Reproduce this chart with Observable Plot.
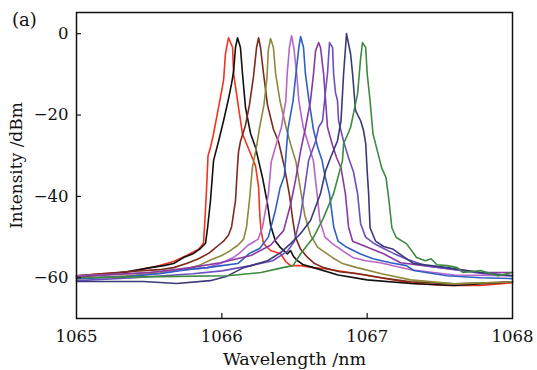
<!DOCTYPE html>
<html>
<head>
<meta charset="utf-8">
<script src="https://cdn.jsdelivr.net/npm/d3@7"></script>
<script src="https://cdn.jsdelivr.net/npm/@observablehq/plot@0.6"></script>
<style>
  html, body { margin: 0; padding: 0; background: #fff; }
  #wrap { position: relative; width: 537px; height: 370px; }
  #tag { position: absolute; left: 12px; top: 9px; font: 18px "DejaVu Serif", serif; color: #111; }
</style>
</head>
<body>
<div id="wrap"><div id="tag">(a)</div></div>
<script>
const wavelengthTicks = [1065, 1066, 1067, 1068];
const intensityTicks = [0, -20, -40, -60];
const seriesNames = ["S1", "S2", "S3", "S4", "S5", "S6", "S7", "S8", "S9", "S10"];
const seriesColors = ["#f2341f", "#111111", "#7b2a1c", "#8c8a3c", "#b866c6", "#2f5fc4", "#8a38a2", "#6b4fbf", "#3b3a78", "#3d8b3f"];

const red = [[1065.00,-59.5],[1065.165,-59.0],[1065.344,-58.7],[1065.509,-57.5],[1065.571,-57.0],[1065.668,-56.0],[1065.757,-54.5],[1065.84,-53.0],[1065.874,-51.5],[1065.885,-45],[1065.895,-38],[1065.905,-30],[1065.922,-28],[1065.943,-24.6],[1065.977,-18.2],[1066.012,-11.5],[1066.025,-4.9],[1066.046,-1.0],[1066.074,-3.4],[1066.081,-9.8],[1066.115,-18.2],[1066.142,-24.6],[1066.198,-29.5],[1066.232,-32.5],[1066.253,-37.8],[1066.262,-45],[1066.27,-48.4],[1066.287,-51.6],[1066.335,-53.3],[1066.404,-54.1],[1066.44,-56.0],[1066.473,-57.0],[1066.542,-57.0],[1066.631,-57.5],[1066.70,-57.7],[1066.9,-58.8],[1067.092,-60.0],[1067.319,-61.4],[1067.553,-61.9],[1067.78,-61.9],[1068,-61.2]];

const black = [[1065.00,-59.8],[1065.165,-59.3],[1065.344,-58.5],[1065.509,-57.5],[1065.6,-57.0],[1065.668,-56.5],[1065.737,-55.0],[1065.806,-54.0],[1065.853,-52.8],[1065.888,-51.5],[1065.902,-47.7],[1065.922,-41],[1065.943,-31.2],[1065.977,-26.5],[1066.012,-21.4],[1066.046,-16.0],[1066.067,-12.3],[1066.081,-9.3],[1066.094,-3.4],[1066.108,-1.0],[1066.128,-3.4],[1066.142,-9.8],[1066.163,-18.2],[1066.198,-24.6],[1066.232,-28.0],[1066.28,-35.4],[1066.314,-41.8],[1066.335,-47],[1066.369,-51.0],[1066.404,-52.6],[1066.432,-53.5],[1066.452,-54.1],[1066.473,-53.3],[1066.494,-54.8],[1066.521,-55.8],[1066.562,-56.8],[1066.631,-57.5],[1066.8,-59.3],[1067.0,-60.5],[1067.3,-61.4],[1067.6,-61.9],[1068,-61.0]];

const brown = [[1065.00,-59.5],[1065.344,-58.5],[1065.571,-58.0],[1065.668,-57.5],[1065.757,-56.5],[1065.84,-55.3],[1065.909,-54.0],[1065.943,-53.0],[1065.977,-52.0],[1066.012,-51.0],[1066.046,-49.5],[1066.067,-47.5],[1066.094,-41],[1066.108,-32.5],[1066.115,-29],[1066.128,-26.5],[1066.163,-22.5],[1066.19,-17.5],[1066.218,-10.5],[1066.239,-3.4],[1066.253,-1.0],[1066.266,-3.4],[1066.287,-9.8],[1066.314,-17.5],[1066.355,-23.5],[1066.39,-26.5],[1066.432,-33.0],[1066.466,-39.8],[1066.487,-45.5],[1066.507,-50.0],[1066.542,-53.0],[1066.59,-55.0],[1066.638,-56.5],[1066.7,-57.5],[1066.81,-58.5],[1066.94,-59.0],[1067.1,-60.0],[1067.3,-61.0],[1067.6,-61.5],[1068,-61.0]];

const olive = [[1065.00,-60.2],[1065.344,-59.5],[1065.571,-58.8],[1065.757,-57.8],[1065.84,-57.0],[1065.93,-55.5],[1066.0,-54.5],[1066.05,-53.5],[1066.11,-52.0],[1066.15,-50.5],[1066.17,-47.5],[1066.19,-41],[1066.21,-33],[1066.24,-27.5],[1066.26,-23],[1066.29,-17.5],[1066.31,-11.0],[1066.32,-4.0],[1066.335,-1.2],[1066.355,-3.4],[1066.37,-9.8],[1066.40,-16.5],[1066.445,-23.5],[1066.48,-28],[1066.51,-31.5],[1066.54,-38],[1066.57,-44.5],[1066.61,-49.5],[1066.66,-52.5],[1066.72,-54.0],[1066.76,-55.0],[1066.83,-56.5],[1066.93,-57.5],[1067.1,-59.0],[1067.3,-60.5],[1067.6,-61.5],[1068,-61.0]];

const violet = [[1065.00,-59.5],[1065.344,-59.0],[1065.571,-58.5],[1065.757,-58.0],[1065.9,-57.5],[1065.99,-56.5],[1066.08,-55.0],[1066.12,-54.0],[1066.18,-52.0],[1066.25,-50.5],[1066.28,-47.5],[1066.32,-39.5],[1066.34,-31.5],[1066.38,-26.5],[1066.41,-23.0],[1066.44,-16.5],[1066.45,-9.8],[1066.465,-3.4],[1066.48,-0.5],[1066.495,-3.4],[1066.515,-9.8],[1066.53,-16.5],[1066.56,-23.0],[1066.59,-26.5],[1066.63,-31.2],[1066.655,-39.3],[1066.675,-46.0],[1066.71,-50.0],[1066.76,-51.6],[1066.83,-53.3],[1066.9,-55.0],[1066.99,-55.8],[1067.09,-56.3],[1067.3,-58.0],[1067.6,-59.3],[1068,-59.5]];

const blue = [[1065.00,-60.2],[1065.344,-59.7],[1065.571,-59.0],[1065.757,-58.0],[1065.9,-57.5],[1066.0,-57.0],[1066.11,-56.5],[1066.19,-54.0],[1066.26,-52.8],[1066.32,-50.0],[1066.37,-43.2],[1066.40,-38],[1066.43,-35.0],[1066.455,-23.5],[1066.49,-16.5],[1066.51,-9.8],[1066.53,-3.4],[1066.542,-0.7],[1066.562,-3.4],[1066.575,-9.8],[1066.6,-16.5],[1066.63,-23.5],[1066.66,-28],[1066.69,-31.2],[1066.71,-35],[1066.74,-39.3],[1066.77,-47.5],[1066.8,-51.0],[1066.86,-52.5],[1066.95,-54.1],[1067.04,-55.3],[1067.16,-56.3],[1067.27,-57.0],[1067.32,-58.2],[1067.55,-59.5],[1067.78,-60.0],[1068,-60.2]];

const purple = [[1065.00,-59.7],[1065.51,-58.7],[1065.785,-57.5],[1065.99,-56.3],[1066.2,-54.5],[1066.335,-52.0],[1066.425,-48.4],[1066.473,-42],[1066.507,-36],[1066.542,-28.8],[1066.576,-23],[1066.61,-16.5],[1066.631,-9.8],[1066.645,-4.2],[1066.666,-2.2],[1066.679,-3.4],[1066.7,-9.8],[1066.714,-16.5],[1066.727,-23.0],[1066.762,-27.5],[1066.79,-30.5],[1066.82,-33],[1066.85,-39.3],[1066.872,-47.5],[1066.9,-51.0],[1066.955,-51.8],[1067.023,-52.8],[1067.113,-54.1],[1067.23,-56.3],[1067.39,-57.0],[1067.55,-57.7],[1067.78,-58.7],[1068,-58.7]];

const indigo = [[1065.00,-60.7],[1065.4,-60.0],[1065.8,-59.0],[1066.0,-58.3],[1066.2,-57.0],[1066.35,-55.8],[1066.45,-53.5],[1066.5,-51.0],[1066.54,-45],[1066.57,-38],[1066.597,-31.2],[1066.645,-26.5],[1066.666,-23.0],[1066.693,-21.4],[1066.714,-14.0],[1066.727,-9.8],[1066.741,-2.2],[1066.762,-3.4],[1066.769,-9.8],[1066.782,-14.5],[1066.796,-16.5],[1066.803,-21.4],[1066.838,-26.5],[1066.872,-30.5],[1066.906,-34.0],[1066.934,-39.3],[1066.955,-46.7],[1066.989,-50.0],[1067.044,-51.5],[1067.113,-52.8],[1067.182,-54.0],[1067.278,-55.5],[1067.4,-57.0],[1067.6,-58.0],[1067.8,-59.0],[1068,-59.5]];

const navy = [[1065.00,-60.9],[1065.46,-60.9],[1065.69,-61.4],[1065.92,-60.7],[1066.03,-59.7],[1066.15,-57.5],[1066.315,-55.8],[1066.404,-53.8],[1066.473,-51.6],[1066.542,-49.1],[1066.61,-45.9],[1066.679,-39.3],[1066.714,-33.7],[1066.748,-30.5],[1066.796,-26.3],[1066.82,-21.4],[1066.838,-9.8],[1066.858,0],[1066.886,-5],[1066.9,-10],[1066.92,-18.9],[1066.955,-21.4],[1066.975,-23.8],[1066.99,-27],[1067.0,-33.7],[1067.01,-39.3],[1067.02,-47.7],[1067.058,-51.0],[1067.113,-52.3],[1067.18,-53.0],[1067.25,-54.8],[1067.32,-56.5],[1067.44,-57.0],[1067.55,-57.5],[1067.78,-58.7],[1068,-59.5]];

const green = [[1065.00,-60.0],[1065.58,-59.7],[1066.04,-59.5],[1066.27,-58.7],[1066.42,-57.5],[1066.49,-57.0],[1066.542,-54.1],[1066.63,-50.1],[1066.7,-45.2],[1066.769,-39.3],[1066.83,-31.2],[1066.838,-27.0],[1066.872,-24.3],[1066.886,-23.0],[1066.906,-19.6],[1066.934,-14.8],[1066.955,-6.0],[1066.968,-2.2],[1066.99,-3.4],[1067.0,-9.8],[1067.02,-16.5],[1067.04,-24.6],[1067.07,-28.8],[1067.1,-33],[1067.13,-35.4],[1067.15,-41.0],[1067.17,-47.7],[1067.2,-50.1],[1067.27,-51.6],[1067.34,-55.0],[1067.4,-55.8],[1067.44,-55.3],[1067.48,-56.8],[1067.55,-57.0],[1067.62,-57.5],[1067.66,-58.7],[1067.78,-58.2],[1067.9,-59.5],[1068,-58.7]];

const seriesValues = [red, black, brown, olive, violet, blue, purple, indigo, navy, green];

const rows = seriesValues.flatMap((s, i) => s.map(([w, v]) => ({wavelength: w, intensity: v, series: seriesNames[i]})));

const W = 537, H = 370, mL = 76, mR = 25, mT = 12, mB = 52;
const innerW = W - mL - mR, innerH = H - mT - mB;
const font = "DejaVu Serif, serif";

const chart = Plot.plot({
  width: W, height: H,
  marginLeft: mL, marginRight: mR, marginTop: mT, marginBottom: mB,
  style: {fontFamily: font, fontSize: "16px", color: "#111", background: "transparent"},
  x: {domain: [1065, 1068]},
  y: {domain: [-70, 5.2]},
  color: {domain: seriesNames, range: seriesColors},
  marks: [
    Plot.line(rows, {x: "wavelength", y: "intensity", z: "series", stroke: "series", strokeWidth: 1.6, curve: "linear"}),
    Plot.frame({stroke: "#111", strokeWidth: 1.5}),
    Plot.tickY(intensityTicks, {y: d => d, stroke: "#111", strokeWidth: 1.2, insetRight: innerW - 5}),
    Plot.tickX(wavelengthTicks.slice(1, -1), {x: d => d, stroke: "#111", strokeWidth: 1.2, insetTop: innerH - 5}),
    Plot.axisY(intensityTicks, {tickSize: 0, tickPadding: 8, fontSize: 16.5, label: null, fontFamily: font}),
    Plot.axisY({label: "Intensity /dBm", ticks: [], tickSize: 0, fontSize: 17, labelAnchor: "center", labelArrow: "none", labelOffset: 67, fontFamily: font}),
    Plot.axisX(wavelengthTicks, {tickSize: 0, tickPadding: 12, fontSize: 16.5, label: null, fontFamily: font, tickFormat: d3.format("d")}),
    Plot.axisX({label: "Wavelength /nm", ticks: [], tickSize: 0, fontSize: 17.5, labelAnchor: "center", labelArrow: "none", labelOffset: 46, fontFamily: font})
  ]
});
document.getElementById("wrap").prepend(chart);
</script>
</body>
</html>
